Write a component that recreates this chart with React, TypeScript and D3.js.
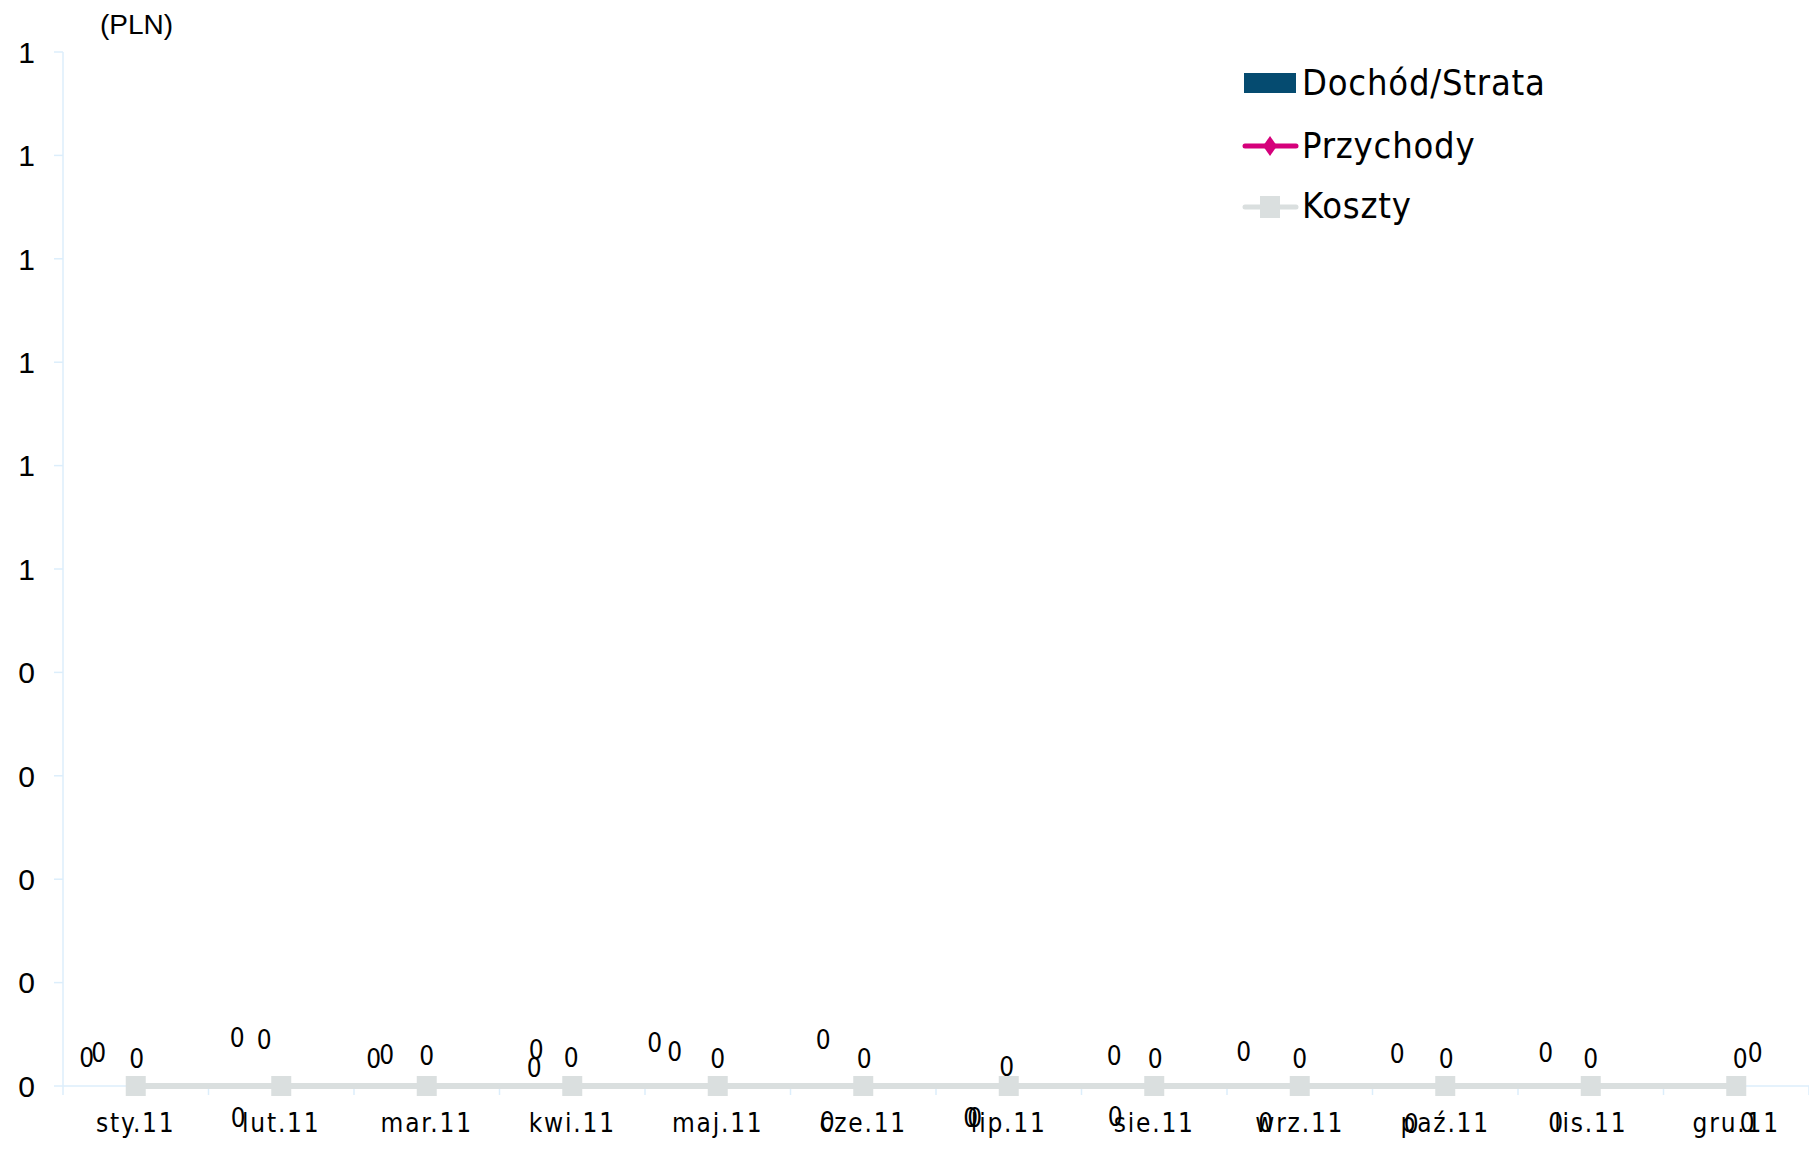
import React from "react";
import * as d3 from "d3";

const categories = ["sty.11", "lut.11", "mar.11", "kwi.11", "maj.11", "cze.11", "lip.11", "sie.11", "wrz.11", "paź.11", "lis.11", "gru.11"];
const dochod = [0, 0, 0, 0, 0, 0, 0, 0, 0, 0, 0, 0];
const przychody = [0, 0, 0, 0, 0, 0, 0, 0, 0, 0, 0, 0];
const koszty = [0, 0, 0, 0, 0, 0, 0, 0, 0, 0, 0, 0];
const yTicks = [0, 0.1, 0.2, 0.3, 0.4, 0.5, 0.6, 0.7, 0.8, 0.9, 1];

// label placement offsets (px, from category centre / zero line) as in the original export
const dochodLabelOff: [number, number][] = [[-49, -28], [-43, 32], [-53, -27], [-38, -18], [-63, -43], [-36, 36], [-38, 32], [-39, 31], [-34, 37], [-34, 38], [-35, 37], [11, 37]];
const przychodyLabelOff: [number, number][] = [[-37, -33], [-44, -48], [-40, -31], [-36, -36], [-43, -34], [-40, -46], [-34, 32], [-40, -30], [-56, -34], [-48, -32], [-45, -33], [19, -33]];
const kosztyLabelOff: [number, number][] = [[1, -27], [-17, -46], [0, -30], [-1, -28], [0, -27], [1, -27], [-2, -19], [1, -27], [0, -27], [1, -27], [0, -27], [4, -27]];

const W = 1809, H = 1153;
const left = 63, right = 1809, top = 52, bottom = 1086;
const axisColor = "#DCEEFB";
const barColor = "#054B70";
const pink = "#D5007B";
const gray = "#DADFDF";
const labelFont = "'DejaVu Sans Condensed', 'DejaVu Sans', sans-serif";
const tickFont = "'Liberation Sans', Arial, sans-serif";

export default function App() {
  const x = d3.scaleBand<string>().domain(categories).range([left, right]).padding(0);
  const y = d3.scaleLinear().domain([0, 1]).range([bottom, top]);
  const fmt = d3.format(".0f");
  const cx = (i: number) => (x(categories[i]) as number) + x.bandwidth() / 2;
  const line = d3.line<number>().x((_, i) => cx(i)).y((d) => y(d));
  const barW = x.bandwidth() * 0.45;

  const labels = (vals: number[], offs: [number, number][], key: string) =>
    vals.map((v, i) => (
      <text key={key + i} x={cx(i) + offs[i][0]} y={y(v) + offs[i][1]} dy="0.36em" textAnchor="middle"
        fontFamily={labelFont} fontStretch="condensed" fontSize={26} fill="#000">{fmt(v)}</text>
    ));

  return (
    <svg width={W} height={H} style={{ position: "absolute", left: 0, top: 0, background: "#fff" }}>
      {/* y axis */}
      <line x1={left} x2={left} y1={top} y2={bottom + 9} stroke={axisColor} strokeWidth={1.5} />
      {yTicks.map((t) => (
        <g key={"yt" + t}>
          <line x1={left - 9} x2={left} y1={y(t)} y2={y(t)} stroke={axisColor} strokeWidth={1.5} />
          <text x={35} y={y(t)} dy="0.36em" textAnchor="end" fontFamily={tickFont} fontSize={30} fill="#000">{fmt(t)}</text>
        </g>
      ))}
      <text x={100} y={34} fontFamily={tickFont} fontSize={28} fill="#000">(PLN)</text>
      {/* x axis */}
      <line x1={left} x2={right} y1={y(0)} y2={y(0)} stroke={axisColor} strokeWidth={1.5} />
      {categories.map((c) => (
        <line key={"xt" + c} x1={(x(c) as number) + x.bandwidth()} x2={(x(c) as number) + x.bandwidth()} y1={y(0)} y2={y(0) + 9} stroke={axisColor} strokeWidth={1.5} />
      ))}
      {/* bars */}
      {dochod.map((v, i) => (
        <rect key={"b" + i} x={cx(i) - barW / 2} y={Math.min(y(v), y(0))} width={barW} height={Math.abs(y(v) - y(0))} fill={barColor} />
      ))}
      {/* przychody */}
      <path d={line(przychody) || ""} fill="none" stroke={pink} strokeWidth={5} />
      {przychody.map((v, i) => (
        <path key={"pd" + i} d={`M${cx(i)},${y(v) - 10}L${cx(i) + 7},${y(v)}L${cx(i)},${y(v) + 10}L${cx(i) - 7},${y(v)}Z`} fill={pink} />
      ))}
      {/* koszty */}
      <path d={line(koszty) || ""} fill="none" stroke={gray} strokeWidth={6} />
      {koszty.map((v, i) => (
        <rect key={"kq" + i} x={cx(i) - 10} y={y(v) - 10} width={20} height={20} fill={gray} />
      ))}
      {/* data labels */}
      {labels(dochod, dochodLabelOff, "ld")}
      {labels(przychody, przychodyLabelOff, "lp")}
      {labels(koszty, kosztyLabelOff, "lk")}
      {/* x labels */}
      {categories.map((c, i) => (
        <text key={"xl" + c} x={cx(i)} y={1132} textAnchor="middle" fontFamily={labelFont} fontStretch="condensed" fontSize={26} letterSpacing={1.8} fill="#000">{c}</text>
      ))}
      {/* legend */}
      <g fontFamily={labelFont} fontStretch="condensed" fontSize={36} letterSpacing={0.8} fill="#000">
        <rect x={1244} y={73} width={52} height={20} fill={barColor} />
        <text x={1302} y={95}>Dochód/Strata</text>
        <line x1={1245} x2={1296} y1={146} y2={146} stroke={pink} strokeWidth={5} strokeLinecap="round" />
        <path d="M1270,136L1277,146L1270,156L1263,146Z" fill={pink} />
        <text x={1302} y={158}>Przychody</text>
        <line x1={1245} x2={1296} y1={207} y2={207} stroke={gray} strokeWidth={5} strokeLinecap="round" />
        <rect x={1260} y={196} width={20} height={22} fill={gray} />
        <text x={1302} y={218}>Koszty</text>
      </g>
    </svg>
  );
}
